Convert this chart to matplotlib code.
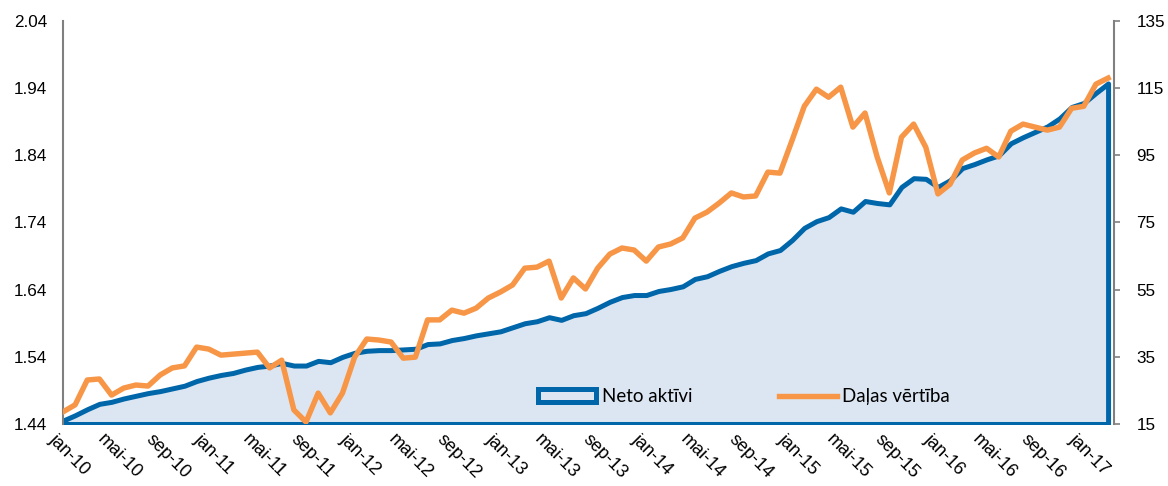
import matplotlib.pyplot as plt
import matplotlib.transforms as mtransforms
import numpy as np

# monthly observations, jan-10 ... mar-17
neto_aktivi = [
    1.445, 1.453, 1.462, 1.470, 1.473, 1.478, 1.482, 1.486, 1.489, 1.493,
    1.497, 1.504, 1.509, 1.513, 1.516, 1.521, 1.525, 1.527, 1.531, 1.527,
    1.527, 1.534, 1.532, 1.540, 1.546, 1.549, 1.550, 1.550, 1.551, 1.552,
    1.559, 1.560, 1.565, 1.568, 1.572, 1.575, 1.578, 1.584, 1.590, 1.593,
    1.599, 1.595, 1.602, 1.605, 1.613, 1.622, 1.629, 1.632, 1.632, 1.638,
    1.641, 1.645, 1.656, 1.660, 1.668, 1.675, 1.680, 1.684, 1.694, 1.699,
    1.714, 1.732, 1.742, 1.748, 1.761, 1.756, 1.772, 1.769, 1.767, 1.793,
    1.806, 1.805, 1.793, 1.803, 1.821, 1.827, 1.834, 1.840, 1.858, 1.867,
    1.875, 1.883, 1.895, 1.912, 1.918, 1.933, 1.947,
]
dalas_vertiba = [
    18.6, 20.7, 28.1, 28.4, 23.6, 25.7, 26.6, 26.3, 29.6, 31.7,
    32.3, 37.9, 37.3, 35.5, 35.8, 36.1, 36.4, 31.7, 34.0, 19.2,
    15.6, 24.2, 18.3, 24.2, 34.9, 40.3, 40.0, 39.4, 34.6, 34.9,
    46.0, 46.0, 48.9, 48.0, 49.5, 52.5, 54.3, 56.4, 61.4, 61.7,
    63.5, 52.5, 58.5, 55.2, 61.4, 65.6, 67.4, 66.8, 63.5, 67.7,
    68.6, 70.4, 76.3, 78.1, 80.8, 83.8, 82.6, 82.9, 90.0, 89.7,
    99.5, 109.6, 114.7, 112.3, 115.3, 103.4, 107.6, 94.5, 83.8, 100.4,
    104.3, 97.4, 83.5, 86.4, 93.6, 95.7, 97.1, 94.5, 102.2, 104.3,
    103.4, 102.5, 103.4, 109.0, 109.6, 116.2, 118.0,
]
tick_labels = [
    'jan-10', 'mai-10', 'sep-10', 'jan-11', 'mai-11', 'sep-11',
    'jan-12', 'mai-12', 'sep-12', 'jan-13', 'mai-13', 'sep-13',
    'jan-14', 'mai-14', 'sep-14', 'jan-15', 'mai-15', 'sep-15',
    'jan-16', 'mai-16', 'sep-16', 'jan-17',
]

BLUE = '#0066aa'
FILL = '#dce6f2'
ORANGE = '#f79646'
GRAY = '#808080'

plt.rcParams['font.family'] = ['Liberation Sans', 'DejaVu Sans']

x = np.arange(len(neto_aktivi))

fig = plt.figure(figsize=(11.68, 4.86), dpi=100)
ax = fig.add_axes([0.0539, 0.1276, 0.9000, 0.8292])

area = ax.fill_between(x, neto_aktivi, 1.44, facecolor=FILL, edgecolor=BLUE,
                       linewidth=3.6, label='Neto aktīvi', zorder=2)
ax.set_xlim(0, len(x) - 0.5)
ax.set_ylim(1.44, 2.04)
ax.set_yticks(np.arange(1.44, 2.0401, 0.1))
ax.set_yticklabels([f'{v:.2f}' for v in np.arange(1.44, 2.0401, 0.1)])
ax.tick_params(axis='y', length=0, pad=11.5, labelsize=12.3, colors='#000000')

# x labels every 4 months, slanted down to the right
ax.set_xticks(x[::4])
ax.set_xticklabels(tick_labels, rotation=-45, ha='left', va='top',
                   rotation_mode='anchor')
ax.tick_params(axis='x', length=0, pad=5, labelsize=13)
offset = mtransforms.ScaledTranslation(-6 / 100, 0, fig.dpi_scale_trans)
for lab in ax.get_xticklabels():
    lab.set_transform(lab.get_transform() + offset)

ax2 = ax.twinx()
line, = ax2.plot(x, dalas_vertiba, color=ORANGE, linewidth=3.9,
                 solid_joinstyle='round', label='Daļas vērtība', zorder=3)
ax2.set_ylim(15, 135)
ax2.set_yticks(np.arange(15, 136, 20))
ax2.tick_params(axis='y', length=4, width=1.2, color=GRAY, pad=12,
                labelsize=12.3)

for a in (ax, ax2):
    a.spines['top'].set_visible(False)
    a.spines['bottom'].set_visible(False)
    for s in ('left', 'right'):
        a.spines[s].set_color(GRAY)
        a.spines[s].set_linewidth(1.5)
ax.spines['right'].set_visible(False)
ax2.spines['left'].set_visible(False)

leg = ax2.legend([area, line], ['Neto aktīvi', 'Daļas vērtība'],
                 loc='center', bbox_to_anchor=(0.648, 0.067), ncol=2,
                 frameon=False, handlelength=3.1, handletextpad=0.3,
                 columnspacing=4.6, prop={'family': 'Lato', 'size': 13.5})

plt.savefig('out.png', dpi=100)
